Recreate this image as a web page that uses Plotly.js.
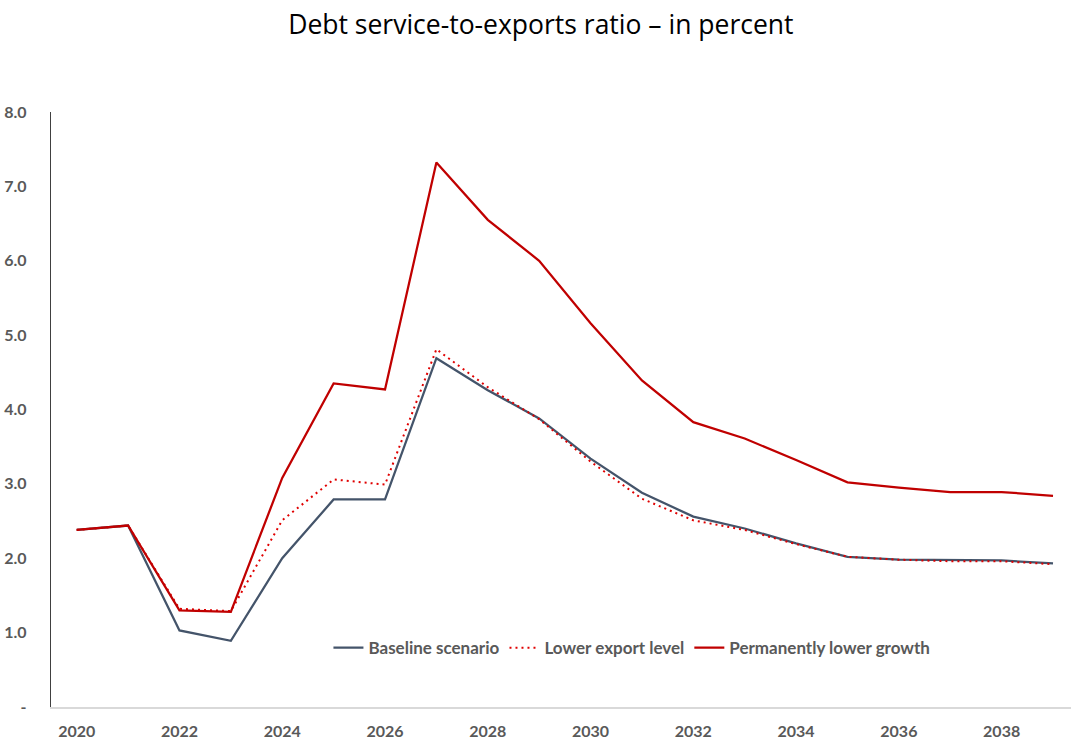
<!DOCTYPE html>
<html>
<head>
<meta charset="utf-8">
<script src="https://cdn.plot.ly/plotly-3.0.1.min.js"></script>
<style>html,body{margin:0;padding:0;background:#fff;}#chart{width:1071px;height:741px;}</style>
</head>
<body>
<div id="chart"></div>
<script>
const years = [2020,2021,2022,2023,2024,2025,2026,2027,2028,2029,2030,2031,2032,2033,2034,2035,2036,2037,2038,2039];
const baseline = [2.38,2.44,1.03,0.89,2.00,2.79,2.79,4.69,4.26,3.88,3.34,2.88,2.56,2.40,2.20,2.02,1.98,1.97,1.97,1.93];
const lowerExport = [2.38,2.44,1.32,1.29,2.51,3.06,2.99,4.81,4.30,3.87,3.30,2.80,2.51,2.38,2.19,2.02,1.98,1.96,1.96,1.92];
const lowerGrowth = [2.38,2.44,1.30,1.28,3.08,4.35,4.27,7.32,6.55,6.00,5.16,4.39,3.83,3.61,3.32,3.02,2.95,2.89,2.89,2.84];
const seriesNames = ["Baseline scenario","Lower export level","Permanently lower growth"];
const yTickVals = [0,1,2,3,4,5,6,7,8];
const yTickText = ["-","1.0","2.0","3.0","4.0","5.0","6.0","7.0","8.0"];
const xTickVals = [2020,2022,2024,2026,2028,2030,2032,2034,2036,2038];

const traces = [
  {x: years, y: baseline, name: seriesNames[0], mode: 'lines', line: {color: '#44546A', width: 2.25}},
  {x: years, y: lowerExport, name: seriesNames[1], mode: 'lines', line: {color: '#E00000', width: 2, dash: '2px,4px'}},
  {x: years, y: lowerGrowth, name: seriesNames[2], mode: 'lines', line: {color: '#C00000', width: 2.25}}
];

const tickFont = {family: 'Lato, "Liberation Sans", sans-serif', size: 16, color: '#595959', weight: 'bold'};
const legendFont = {family: 'Lato, "Liberation Sans", sans-serif', size: 17, color: '#595959', weight: 'bold'};

const layout = {
  width: 1071, height: 741,
  margin: {l: 51, r: 0, t: 112, b: 34},
  paper_bgcolor: '#fff', plot_bgcolor: '#fff',
  title: {text: 'Debt service-to-exports ratio – in percent', x: 0.505, xanchor: 'center', y: 0.966, yanchor: 'middle',
          font: {family: '"Open Sans", "Noto Sans", sans-serif', size: 26.5, color: '#000'}},
  xaxis: {range: [2019.5, 2039.35], tickvals: xTickVals, ticktext: xTickVals.map(String),
          showgrid: false, zeroline: false, showline: true, linecolor: '#D9D9D9', linewidth: 1.5,
          ticks: 'outside', ticklen: 9, tickcolor: 'rgba(0,0,0,0)', tickfont: tickFont, fixedrange: true},
  yaxis: {range: [0, 8], tickvals: yTickVals, ticktext: yTickText,
          showgrid: false, zeroline: false, showline: true, linecolor: '#404040', linewidth: 1.25,
          ticks: 'outside', ticklen: 20, tickcolor: 'rgba(0,0,0,0)', tickfont: tickFont, fixedrange: true},
  showlegend: true,
  legend: {orientation: 'h', x: 0.272, xanchor: 'left', y: 0.099, yanchor: 'middle',
           font: legendFont, bgcolor: 'rgba(255,255,255,0)', itemwidth: 30, tracegroupgap: 0}
};

Plotly.newPlot('chart', traces, layout, {displayModeBar: false, staticPlot: true});
</script>
</body>
</html>
